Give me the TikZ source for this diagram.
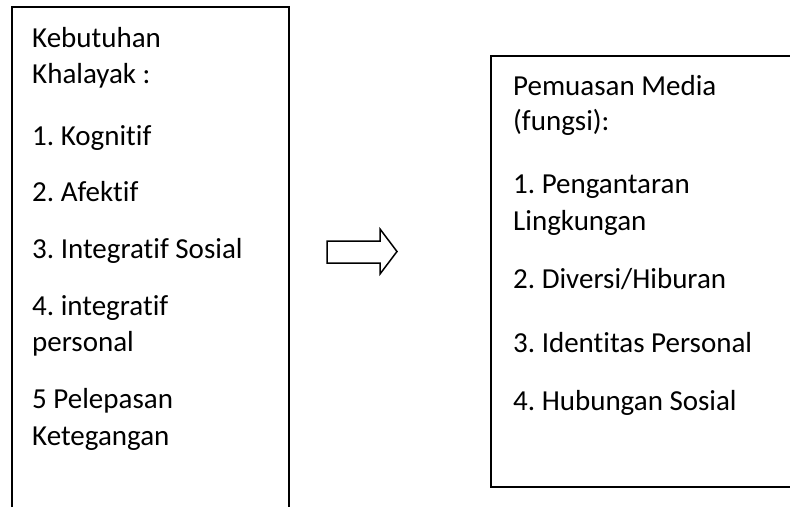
\documentclass[tikz,border=0pt]{standalone}
\usepackage{fontspec}
\setmainfont{Carlito}[Ligatures=NoCommon]
\frenchspacing
\begin{document}
\begin{tikzpicture}[x=1pt,y=-1pt]
            \tikzset{every node/.append style={inner sep=0pt, anchor=base west, font=\fontsize{29}{37}\selectfont}}
            \useasboundingbox (0,0) rectangle (790,507);
            % left box, open at the bottom
            \draw [black, line width=2pt] (11.5,507) -- (11.5,7) -- (289,7) -- (289,507);
            \node (kb1) at (32,47) {Kebutuhan};
            \node (kb2) at (32,83.5) {Khalayak :};
            \node (kog) at (32,145) {1. Kognitif};
            \node (afe) at (32,201.5) {2. Afektif};
            \node (ins) at (32,258) {3. Integratif Sosial};
            \node (inp1) at (32,315) {4. integratif};
            \node (inp2) at (32,351) {personal};
            \node (pel1) at (32,408) {5 Pelepasan};
            \node (pel2) at (32,445) {Ketegangan};
            % block arrow
            \draw [black, line width=1.5pt] (327,241) -- (380,241) -- (380,229) -- (397,251.5)
                  -- (380,274) -- (380,263) -- (327,263) -- cycle;
            % right box, open at the right
            \draw [black, line width=2pt] (790,56) -- (491,56) -- (491,487) -- (790,487);
            \node (pm1) at (513,95) {Pemuasan Media};
            \node (pm2) at (513,130.5) {(fungsi):};
            \node (pen1) at (513,193) {1. Pengantaran};
            \node (pen2) at (513,230) {Lingkungan};
            \node (div) at (513,288) {2. Diversi/Hiburan};
            \node (idp) at (513,352) {3. Identitas Personal};
            \node (hub) at (513,410) {4. Hubungan Sosial};
\end{tikzpicture}
\end{document}
